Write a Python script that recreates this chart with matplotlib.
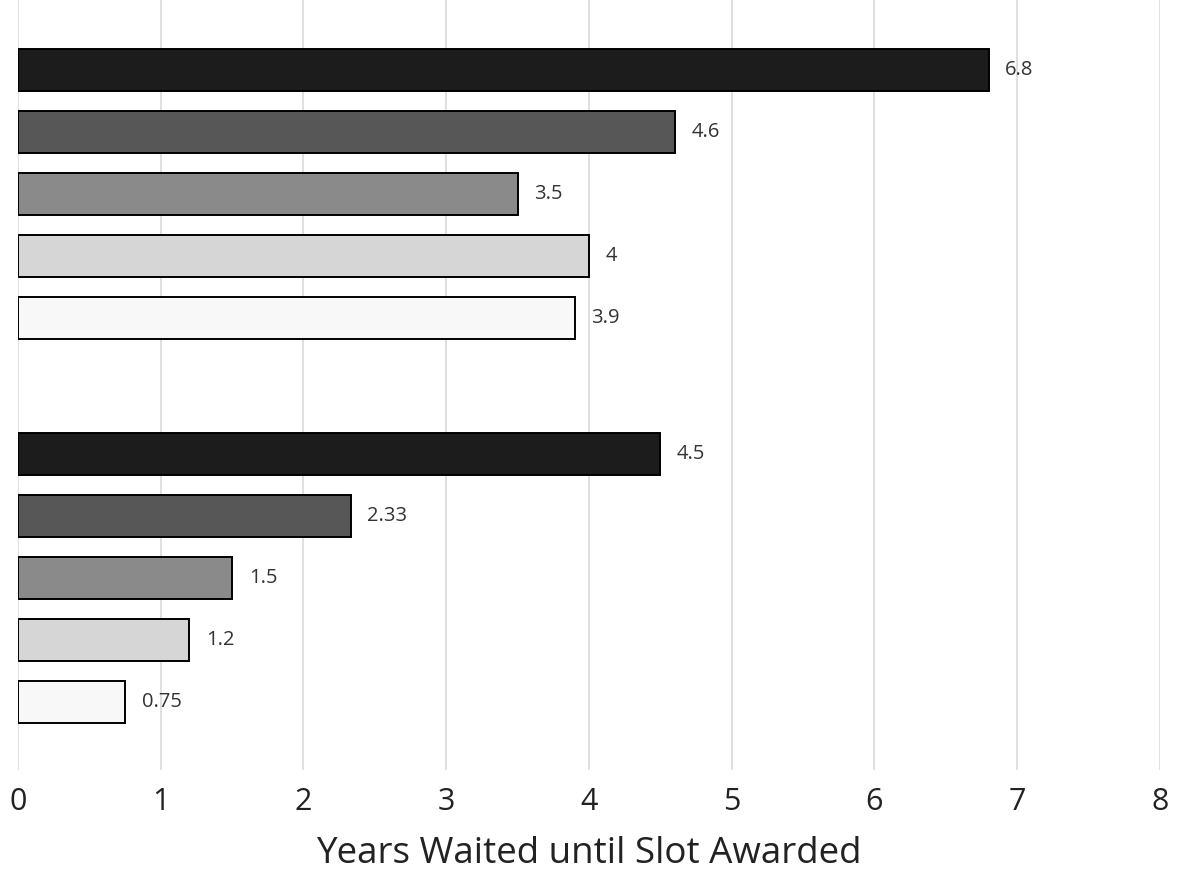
import matplotlib.pyplot as plt
import numpy as np

plt.rcParams['font.family'] = ['Open Sans', 'DejaVu Sans']

# two groups of five bars, top to bottom
group_a = [6.8, 4.6, 3.5, 4, 3.9]
group_b = [4.5, 2.33, 1.5, 1.2, 0.75]
value_labels_a = ['6.8', '4.6', '3.5', '4', '3.9']
value_labels_b = ['4.5', '2.33', '1.5', '1.2', '0.75']
shades = ['#1c1c1c', '#575757', '#8a8a8a', '#d6d6d6', '#f8f8f8']
x_ticks = [0, 1, 2, 3, 4, 5, 6, 7, 8]
x_label = 'Years Waited until Slot Awarded'

fig = plt.figure(figsize=(11.81, 8.86), dpi=100)
ax = fig.add_axes([0.0152, 0.131, 0.967, 0.869])

gap = 6.19
pos_a = np.arange(len(group_a))
pos_b = np.arange(len(group_b)) + gap

for pos, vals, labs in [(pos_a, group_a, value_labels_a), (pos_b, group_b, value_labels_b)]:
    bars = ax.barh(pos, vals, height=0.68, color=shades, edgecolor='black', linewidth=1.4, zorder=3)
    for b, lab in zip(bars, labs):
        ax.annotate(lab, (b.get_width(), b.get_y() + b.get_height() / 2),
                    xytext=(12, 0), textcoords='offset points',
                    va='center', ha='left', fontsize=14.5, color='#333333')

ax.set_xlim(0, 8)
ax.set_ylim(11.29, -1.13)
ax.set_xticks(x_ticks)
ax.set_xticklabels([str(t) for t in x_ticks], fontsize=22, color='#222222')
ax.tick_params(axis='x', length=0, pad=12)
ax.set_yticks([])
ax.grid(axis='x', color='#d9d9d9', linewidth=1.2, zorder=0)
for s in ax.spines.values():
    s.set_visible(False)
ax.set_xlabel(x_label, fontsize=26.5, color='#222222', labelpad=14)

fig.savefig('out.png', dpi=100)
